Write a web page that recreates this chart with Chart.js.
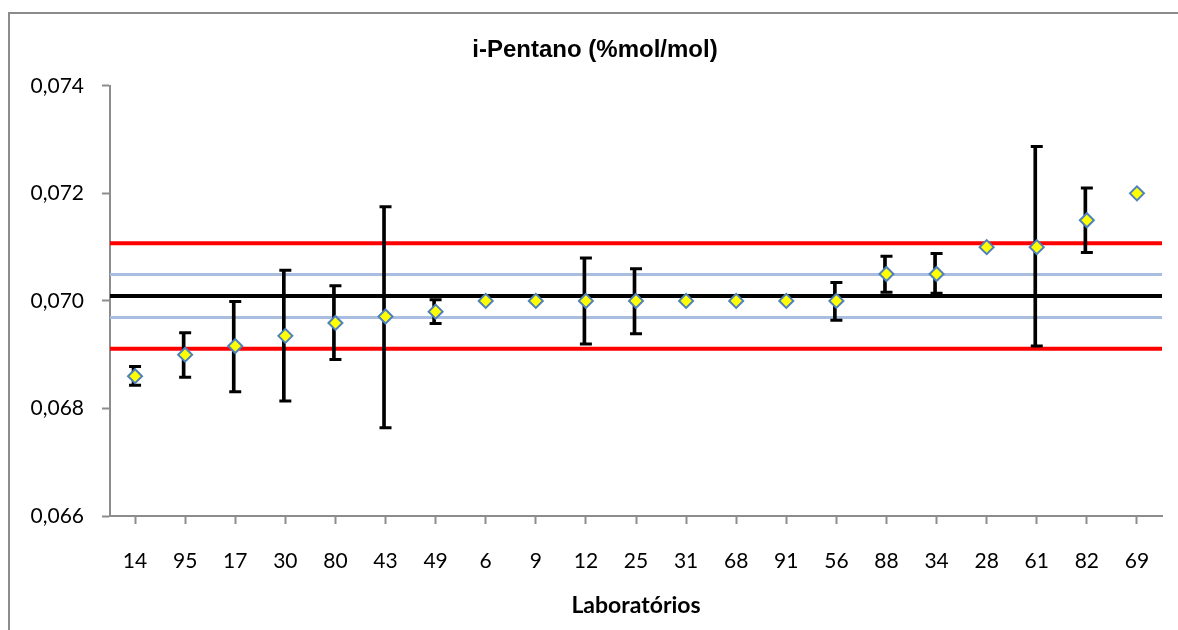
<!DOCTYPE html>
<html>
<head>
<meta charset="utf-8">
<script src="https://cdn.jsdelivr.net/npm/chart.js@4/dist/chart.umd.min.js"></script>
<style>
    html, body { margin: 0; padding: 0; background: #fff; overflow: hidden; }
    #wrap { position: relative; width: 1178px; height: 630px; }
</style>
</head>
<body>
<div id="wrap">
    <canvas id="ipentChart"></canvas>
</div>
<script>
// Labs, in plotted order
const labs = ['14', '95', '17', '30', '80', '43', '49', '6', '9', '12', '25',
              '31', '68', '91', '56', '88', '34', '28', '61', '82', '69'];

// reported results (%mol/mol)
const results = [0.0686, 0.0690, 0.06916, 0.06935, 0.06959, 0.06971, 0.0698, 0.0700, 0.0700, 0.0700, 0.0700,
                 0.0700, 0.0700, 0.0700, 0.0700, 0.0705, 0.0705, 0.0710, 0.0710, 0.0715, 0.0720];

// uncertainty bar ends (null = no bar)
const errHigh = [0.06878, 0.06941, 0.06999, 0.07057, 0.07028, 0.07175, 0.07002, null, null, 0.07080, 0.07060,
                 null, null, null, 0.07034, 0.07083, 0.07088, null, 0.07287, 0.07210, null];
const errLow  = [0.06843, 0.06858, 0.06831, 0.06814, 0.06891, 0.06764, 0.06958, null, null, 0.06920, 0.06939,
                 null, null, null, 0.06964, 0.07016, 0.07014, null, 0.06916, 0.07090, null];

// reference lines
const refMean  = 0.07009;
const refInner = [0.06969, 0.07049];
const refOuter = [0.06911, 0.07107];

const yTicks = [0.066, 0.068, 0.070, 0.072, 0.074];

const colors = {
    marker: '#ffff00',
    markerEdge: '#4f81bd',
    bar: '#000000',
    red: '#ff0000',
    blue: '#a9bde0',
    mean: '#000000',
    axis: '#8c8c8c',
    text: '#000000'
};

const errRanges = errLow.map((lo, i) => (lo === null ? null : [lo, errHigh[i]]));

function hLine(value, color, width) {
    return {
        type: 'line',
        xAxisID: 'xl',
        data: [{ x: 0, y: value }, { x: 1, y: value }],
        borderColor: color,
        borderWidth: width,
        pointRadius: 0,
        fill: false
    };
}

// outer chart frame (only top and left edges fall inside the picture)
const framePlugin = {
    id: 'frame',
    beforeDraw: function(chart) {
        const c = chart.ctx;
        c.save();
        c.strokeStyle = colors.axis;
        c.lineWidth = 2;
        c.beginPath();
        c.moveTo(chart.width + 10, 13);
        c.lineTo(9, 13);
        c.lineTo(9, chart.height + 10);
        c.stroke();
        c.restore();
    }
};

const ctx = document.getElementById('ipentChart').getContext('2d');

new Chart(ctx, {
    data: {
        labels: labs,
        datasets: [
            {
                type: 'line',
                data: results,
                showLine: false,
                pointStyle: 'rectRot',
                pointRadius: 7,
                pointBackgroundColor: colors.marker,
                pointBorderColor: colors.markerEdge,
                pointBorderWidth: 2
            },
            {
                type: 'line',
                data: errHigh,
                showLine: false,
                pointStyle: 'line',
                pointRadius: 6,
                pointBorderColor: colors.bar,
                pointBorderWidth: 3
            },
            {
                type: 'line',
                data: errLow,
                showLine: false,
                pointStyle: 'line',
                pointRadius: 6,
                pointBorderColor: colors.bar,
                pointBorderWidth: 3
            },
            {
                type: 'bar',
                data: errRanges,
                backgroundColor: colors.bar,
                barThickness: 3,
                borderWidth: 0
            },
            hLine(refMean, colors.mean, 4),
            hLine(refInner[0], colors.blue, 3),
            hLine(refInner[1], colors.blue, 3),
            hLine(refOuter[0], colors.red, 4),
            hLine(refOuter[1], colors.red, 4)
        ]
    },
    plugins: [framePlugin],
    options: {
        responsive: true,
        maintainAspectRatio: false,
        animation: false,
        events: [],
        layout: {
            padding: { left: 28, right: 16, top: 0, bottom: 0 }
        },
        plugins: {
            legend: { display: false },
            tooltip: { enabled: false },
            title: {
                display: true,
                text: 'i-Pentano (%mol/mol)',
                color: colors.text,
                font: { family: '"Liberation Sans", Arial, sans-serif', size: 24, weight: 'bold' },
                padding: { top: 36, bottom: 21 }
            }
        },
        scales: {
            x: {
                type: 'category',
                offset: true,
                afterFit: function(scale) { scale.height = 114; },
                border: { color: colors.axis, width: 2 },
                grid: {
                    offset: false,
                    drawOnChartArea: false,
                    drawTicks: true,
                    tickLength: 8,
                    tickWidth: 2,
                    tickColor: colors.axis
                },
                ticks: {
                    color: colors.text,
                    padding: 25,
                    maxRotation: 0,
                    autoSkip: false,
                    font: { family: 'Lato, "Open Sans", sans-serif', size: 21 }
                },
                title: {
                    display: true,
                    text: 'Laboratórios',
                    color: colors.text,
                    font: { family: 'Lato, "Open Sans", sans-serif', size: 23, weight: 'bold' },
                    padding: { top: 0, bottom: 11 }
                }
            },
            xl: {
                type: 'linear',
                display: false,
                min: 0,
                max: 1
            },
            y: {
                min: 0.066,
                max: 0.074,
                afterFit: function(scale) { scale.width = 82; },
                afterBuildTicks: function(scale) {
                    scale.ticks = yTicks.map(v => ({ value: v }));
                },
                border: { color: colors.axis, width: 2 },
                grid: {
                    drawOnChartArea: false,
                    drawTicks: true,
                    tickLength: 8,
                    tickWidth: 2,
                    tickColor: colors.axis
                },
                ticks: {
                    color: colors.text,
                    padding: 18,
                    font: { family: 'Lato, "Open Sans", sans-serif', size: 21 },
                    callback: function(value) {
                        return value.toFixed(3).replace('.', ',');
                    }
                }
            }
        }
    }
});
</script>
</body>
</html>
